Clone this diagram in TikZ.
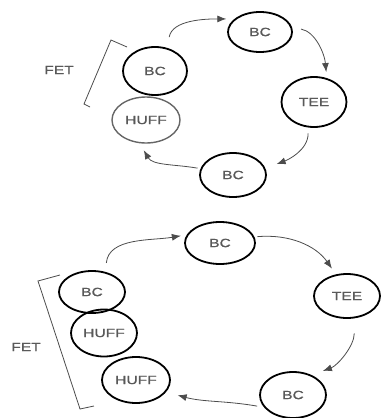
\documentclass[tikz,border=0pt]{standalone}
\usepackage{fontspec}
\newfontfamily\labfont[FakeStretch=1.3,FakeBold=0.8]{Liberation Sans}
\usetikzlibrary{shapes.geometric,arrows.meta}
\begin{document}
\begin{tikzpicture}[x=1pt,y=-1pt,
 state/.style={ellipse,draw=black,line width=1.8pt,inner sep=0pt,font=\labfont\fontsize{12}{12}\selectfont,text=black!65},
 flow/.style={draw=black!70,line width=0.8pt,-{Latex[length=9pt,width=7pt]}},
 brk/.style={draw=black!70,line width=0.8pt},
 lab/.style={font=\labfont\fontsize{12}{12}\selectfont,text=black!65}]
\useasboundingbox (0,0) rectangle (382,418);
% top cycle
\node[state,minimum width=64pt,minimum height=40pt] (t1) at (260,32) {BC};
\node[state,minimum width=65pt,minimum height=50pt] (t2) at (314,102) {TEE};
\node[state,minimum width=66pt,minimum height=44pt] (t3) at (233,175) {BC};
\node[state,minimum width=68pt,minimum height=46pt,draw=black!60,line width=1.4pt] (t4) at (146,120) {HUFF};
\node[state,minimum width=64pt,minimum height=48pt] (t5) at (155,71) {BC};
\node[lab] (fet1) at (59,70) {FET};
\coordinate (k1) at (127,47);
\coordinate (k2) at (111,40);
\coordinate (k3) at (84,104);
\coordinate (k4) at (90,107);
\draw[brk] (k1) -- (k2) -- (k3) -- (k4);
\draw[flow,shorten <=11pt,shorten >=8pt] (t5.62) to[out=80,in=180] (t1.153);
\draw[flow,shorten <=9pt,shorten >=6pt] (t1.8) to[out=-10,in=95] (t2.62);
\draw[flow,shorten <=6pt,shorten >=12pt] (t2.257) to[out=-90,in=20] (t3.12);
\draw[flow,shorten <=3pt,shorten >=8pt] (t3.169) to[out=170,in=-60] (t4.255);
% bottom cycle
\node[state,minimum width=70pt,minimum height=42pt] (b1) at (220,243) {BC};
\node[state,minimum width=66pt,minimum height=44pt] (b2) at (347,296) {TEE};
\node[state,minimum width=66pt,minimum height=46pt] (b3) at (293,395) {BC};
\node[state,minimum width=68pt,minimum height=46pt] (b4) at (136,380) {HUFF};
\node[state,minimum width=66pt,minimum height=47pt] (b5) at (104,333) {HUFF};
\node[state,minimum width=66pt,minimum height=42pt] (b6) at (92,292) {BC};
\node[lab] (fet2) at (26,347) {FET};
\coordinate (m1) at (60,275);
\coordinate (m2) at (38,281);
\coordinate (m3) at (80,409);
\coordinate (m4) at (94,406);
\draw[brk] (m1) -- (m2) -- (m3) -- (m4);
\draw[flow,shorten <=9pt,shorten >=6pt] (b6.56) to[out=85,in=190] (b1.166);
\draw[flow,shorten <=3pt,shorten >=7pt] (b1.10) to[out=5,in=125] (b2.117);
\draw[flow,shorten <=15pt,shorten >=12pt] (b2.-72) to[out=-90,in=20] (b3.47);
\draw[flow,shorten <=7pt,shorten >=12pt] (b3.203) to[out=170,in=-15] (b4.-22);
\end{tikzpicture}
\end{document}
